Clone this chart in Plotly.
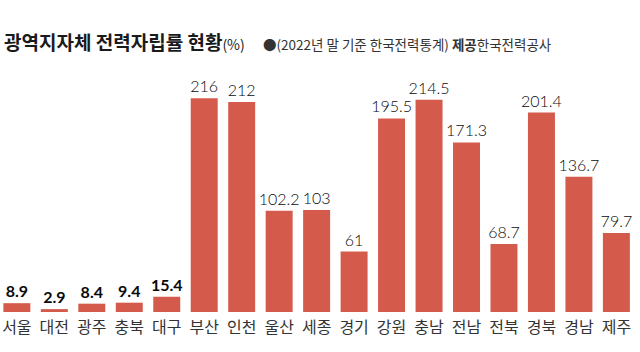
import plotly.graph_objects as go

regions = ["서울", "대전", "광주", "충북", "대구", "부산", "인천", "울산", "세종",
           "경기", "강원", "충남", "전남", "전북", "경북", "경남", "제주"]
self_sufficiency = [8.9, 2.9, 8.4, 9.4, 15.4, 216, 212, 102.2, 103,
                    61, 195.5, 214.5, 171.3, 68.7, 201.4, 136.7, 79.7]
bold_labels = [True, True, True, True, True] + [False] * 12

title_text = "광역지자체 전력자립률 현황"
unit_text = "(%)"
note_text = "●(2022년 말 기준 한국전력통계) "
source_label = "제공"
source_text = "한국전력공사"

FONT = "Noto Sans CJK KR"
NUM_FONT = "Lato, Noto Sans CJK KR"
BAR_COLOR = "#d45a4c"

labels = [f"<b>{v:g}</b>" if b else f"{v:g}" for v, b in zip(self_sufficiency, bold_labels)]

fig = go.Figure(go.Bar(
    x=list(range(len(regions))),
    y=self_sufficiency,
    text=labels,
    textposition="outside",
    textfont=dict(family=NUM_FONT, size=16, color="#0a0a0a", weight=300),
    constraintext="none",
    cliponaxis=False,
    marker=dict(color=BAR_COLOR, line=dict(width=0)),
    hoverinfo="skip",
))

W, H = 640, 352
ml, mr, mt, mb = 0, 3, 70, 40
plot_h = H - mt - mb
plot_w = W - ml - mr

fig.update_layout(
    width=W, height=H,
    margin=dict(l=ml, r=mr, t=mt, b=mb, pad=0),
    paper_bgcolor="white", plot_bgcolor="white",
    bargap=0.28,
    showlegend=False,
    xaxis=dict(
        range=[-0.45, 16.55],
        tickmode="array",
        tickvals=list(range(len(regions))),
        ticktext=regions,
        tickfont=dict(family=FONT, size=16, color="#333333"),
        showgrid=False, zeroline=False, showline=False, ticks="",
        ticklabelstandoff=4,
        fixedrange=True,
    ),
    yaxis=dict(
        range=[0, plot_h / 0.99],
        visible=False,
        fixedrange=True,
    ),
    annotations=[
        dict(
            xref="paper", yref="paper",
            x=2 / plot_w, y=1 + 29 / plot_h,
            xanchor="left", yanchor="middle",
            text=f"<b>{title_text}</b><span style='font-size:14px'>{unit_text}</span>",
            showarrow=False,
            font=dict(family=FONT, size=19, color="#1a1a1a"),
        ),
        dict(
            xref="paper", yref="paper",
            x=261 / plot_w, y=1 + 26 / plot_h,
            xanchor="left", yanchor="middle",
            text=f"{note_text}<b>{source_label}</b>{source_text}",
            showarrow=False,
            font=dict(family=FONT, size=13.5, color="#333333"),
        ),
    ],
)

fig.write_html("out.html", config={"displayModeBar": False})
